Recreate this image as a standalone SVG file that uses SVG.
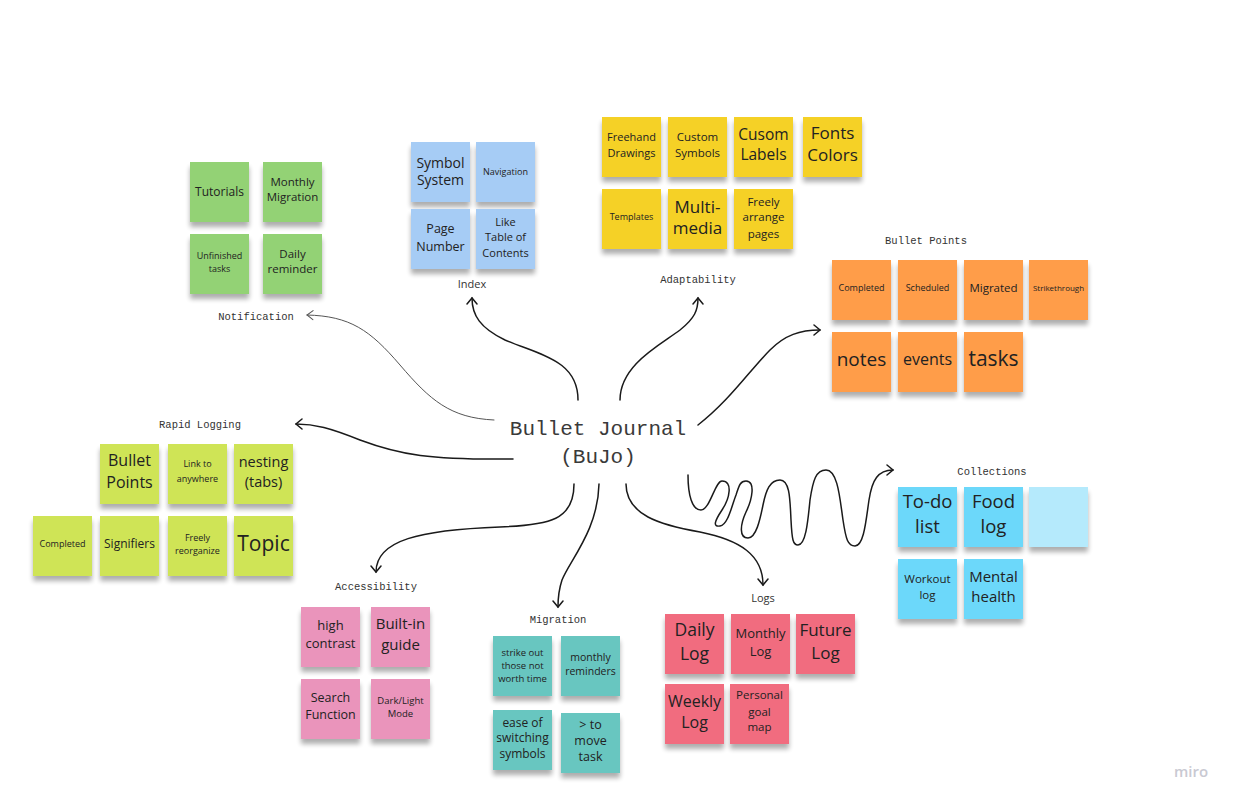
<svg xmlns="http://www.w3.org/2000/svg" width="1239" height="806" viewBox="0 0 1239 806">
<defs>
<filter id="sh" x="-20%" y="-20%" width="140%" height="150%">
<feOffset in="SourceAlpha" dy="5" result="o"/>
<feGaussianBlur in="o" stdDeviation="2.5" result="b"/>
<feComponentTransfer in="b" result="c"><feFuncA type="linear" slope="0.32"/></feComponentTransfer>
<feMerge><feMergeNode in="c"/><feMergeNode in="SourceGraphic"/></feMerge>
</filter>
<marker id="arr" markerWidth="12" markerHeight="12" refX="7" refY="6" orient="auto" markerUnits="userSpaceOnUse"><path d="M1,1 L7,6 L1,11" fill="none" stroke="#1a1a1a" stroke-width="1.5" stroke-linecap="round"/></marker>
<marker id="arrg" markerWidth="12" markerHeight="12" refX="7" refY="6" orient="auto" markerUnits="userSpaceOnUse"><path d="M1,1.5 L7,6 L1,10.5" fill="none" stroke="#555" stroke-width="1" stroke-linecap="round"/></marker>
<style>
.n rect{filter:url(#sh);}
.g rect{fill:#93d275}
.lb rect{fill:#a6ccf5}
.y rect{fill:#f5d128}
.o rect{fill:#ff9d48}
.l rect{fill:#cfe457}
.p rect{fill:#ea94bb}
.c rect{fill:#67c6c0}
.r rect{fill:#f16c7f}
.b rect{fill:#6cd8fa}
.n text{font-family:"Open Sans","Liberation Sans",sans-serif;fill:#222;text-anchor:middle}
.lab{font-family:"Liberation Mono","DejaVu Sans Mono",monospace;font-size:10.5px;fill:#333;text-anchor:middle}
.labs{font-family:"Open Sans","Liberation Sans",sans-serif;font-size:11px;fill:#333;text-anchor:middle}
.con path{fill:none;stroke:#1a1a1a;stroke-width:1.5;stroke-linecap:round}
</style>
</defs>
<rect width="1239" height="806" fill="#ffffff"/>

<g id="connectors" class="con">
<path d="M 494 420 C 450 418 430 400 400 365 C 370 330 350 316 307 315" style="stroke:#555;stroke-width:1" marker-end="url(#arrg)"/>
<path d="M 513 459 C 430 460 400 455 360 440 C 330 428 315 424 296 424" marker-end="url(#arr)"/>
<path d="M 578 400 C 578 360 540 355 505 340 C 480 328 472 315 472 298" marker-end="url(#arr)"/>
<path d="M 620 400 C 620 365 660 345 680 330 C 695 318 698 310 698 298" marker-end="url(#arr)"/>
<path d="M 698 425 C 730 400 750 370 770 350 C 785 335 800 330 820 330" marker-end="url(#arr)"/>
<path d="M 574 484 C 574 520 550 525 500 527 C 420 530 376 540 376 572" marker-end="url(#arr)"/>
<path d="M 599 484 C 598 530 570 560 562 580 C 558 592 558 600 558 607" marker-end="url(#arr)"/>
<path d="M 626 484 C 626 515 660 525 700 532 C 740 540 763 555 763 585" marker-end="url(#arr)"/>
<path d="M 688 475 C 688 495 692 510 701 510 C 710 510 715 481 722 481 C 733 481 730 498 722 510 C 714 522 713 527 720 526 C 728 525 732 505 736 495 C 739 486 740 481 746 481 C 756 481 752 500 746 512 C 740 525 739 538 748 538 C 756 538 760 520 763 505 C 766 490 770 480 780 480 C 790 480 790 500 791 520 C 792 540 793 545 798 545 C 806 545 808 520 810 500 C 813 480 816 470 826 470 C 838 470 840 500 843 520 C 846 540 848 546 855 546 C 864 546 866 520 869 500 C 872 480 878 470 893 470" marker-end="url(#arr)"/>
</g>

<g id="center">
<text x="598" y="435" font-family="Liberation Mono, DejaVu Sans Mono, monospace" font-size="21" fill="#3a3a3a" text-anchor="middle">Bullet Journal</text>
<text x="598" y="463" font-family="Liberation Mono, DejaVu Sans Mono, monospace" font-size="21" fill="#3a3a3a" text-anchor="middle">(BuJo)</text>
</g>

<g id="labels">
<text class="lab" x="256" y="320">Notification</text>
<text class="labs" x="472" y="288">Index</text>
<text class="lab" x="698" y="283">Adaptability</text>
<text class="lab" x="926" y="244">Bullet Points</text>
<text class="lab" x="200" y="428">Rapid Logging</text>
<text class="lab" x="376" y="590">Accessibility</text>
<text class="lab" x="558" y="623">Migration</text>
<text class="labs" x="763" y="602">Logs</text>
<text class="lab" x="992" y="475">Collections</text>
</g>

<!-- Notification -->
<g id="n-tutorials" class="n g"><rect x="190" y="162" width="59" height="60"/><text x="219.5" y="196" font-size="12">Tutorials</text></g>
<g id="n-monthly-migration" class="n g"><rect x="263" y="162" width="59" height="60"/><text x="292.5" y="186" font-size="11.5">Monthly</text><text x="292.5" y="201" font-size="11.5">Migration</text></g>
<g id="n-unfinished" class="n g"><rect x="190" y="234" width="59" height="60"/><text x="219.5" y="259" font-size="9">Unfinished</text><text x="219.5" y="272" font-size="9">tasks</text></g>
<g id="n-daily-reminder" class="n g"><rect x="263" y="234" width="59" height="60"/><text x="292.5" y="258" font-size="11.5">Daily</text><text x="292.5" y="273" font-size="11.5">reminder</text></g>

<!-- Index -->
<g id="i-symbol" class="n lb"><rect x="411" y="142" width="59" height="60"/><text x="440.5" y="168" font-size="14">Symbol</text><text x="440.5" y="185" font-size="14">System</text></g>
<g id="i-navigation" class="n lb"><rect x="476" y="142" width="59" height="60"/><text x="505.5" y="175" font-size="9">Navigation</text></g>
<g id="i-page" class="n lb"><rect x="411" y="209" width="59" height="60"/><text x="440.5" y="233" font-size="12.5">Page</text><text x="440.5" y="251" font-size="12.5">Number</text></g>
<g id="i-toc" class="n lb"><rect x="476" y="209" width="59" height="60"/><text x="505.5" y="226" font-size="11">Like</text><text x="505.5" y="241" font-size="11">Table of</text><text x="505.5" y="257" font-size="11">Contents</text></g>

<!-- Adaptability -->
<g id="a-freehand" class="n y"><rect x="602" y="117" width="59" height="60"/><text x="631.5" y="141" font-size="11">Freehand</text><text x="631.5" y="157" font-size="11">Drawings</text></g>
<g id="a-custom-symbols" class="n y"><rect x="668" y="117" width="59" height="60"/><text x="697.5" y="141" font-size="11.5">Custom</text><text x="697.5" y="157" font-size="11.5">Symbols</text></g>
<g id="a-cusom-labels" class="n y"><rect x="734" y="117" width="59" height="60"/><text x="763.5" y="140" font-size="15.5">Cusom</text><text x="763.5" y="160" font-size="15.5">Labels</text></g>
<g id="a-fonts" class="n y"><rect x="803" y="117" width="59" height="60"/><text x="832.5" y="139" font-size="17">Fonts</text><text x="832.5" y="161" font-size="17">Colors</text></g>
<g id="a-templates" class="n y"><rect x="602" y="189" width="59" height="60"/><text x="631.5" y="220" font-size="9">Templates</text></g>
<g id="a-multimedia" class="n y"><rect x="668" y="189" width="59" height="60"/><text x="697.5" y="213" font-size="17">Multi-</text><text x="697.5" y="234" font-size="17">media</text></g>
<g id="a-arrange" class="n y"><rect x="734" y="189" width="59" height="60"/><text x="763.5" y="206" font-size="11.5">Freely</text><text x="763.5" y="221" font-size="11.5">arrange</text><text x="763.5" y="238" font-size="11.5">pages</text></g>

<!-- Bullet Points -->
<g id="b-completed" class="n o"><rect x="832" y="260" width="59" height="60"/><text x="861.5" y="291" font-size="9">Completed</text></g>
<g id="b-scheduled" class="n o"><rect x="898" y="260" width="59" height="60"/><text x="927.5" y="291" font-size="9">Scheduled</text></g>
<g id="b-migrated" class="n o"><rect x="964" y="260" width="59" height="60"/><text x="993.5" y="292" font-size="11.5">Migrated</text></g>
<g id="b-strike" class="n o"><rect x="1029" y="260" width="59" height="60"/><text x="1058.5" y="291" font-size="8">Strikethrough</text></g>
<g id="b-notes" class="n o"><rect x="832" y="332" width="59" height="60"/><text x="861.5" y="366" font-size="19">notes</text></g>
<g id="b-events" class="n o"><rect x="898" y="332" width="59" height="60"/><text x="927.5" y="365" font-size="16">events</text></g>
<g id="b-tasks" class="n o"><rect x="964" y="332" width="59" height="60"/><text x="993.5" y="366" font-size="21">tasks</text></g>

<!-- Rapid Logging -->
<g id="r-bullet" class="n l"><rect x="100" y="444" width="59" height="60"/><text x="129.5" y="466" font-size="16">Bullet</text><text x="129.5" y="488" font-size="16">Points</text></g>
<g id="r-link" class="n l"><rect x="168" y="444" width="59" height="60"/><text x="197.5" y="467" font-size="9">Link to</text><text x="197.5" y="482" font-size="9">anywhere</text></g>
<g id="r-nesting" class="n l"><rect x="234" y="444" width="59" height="60"/><text x="263.5" y="467" font-size="14.5">nesting</text><text x="263.5" y="487" font-size="14.5">(tabs)</text></g>
<g id="r-completed" class="n l"><rect x="33" y="516" width="59" height="60"/><text x="62.5" y="547" font-size="9">Completed</text></g>
<g id="r-signifiers" class="n l"><rect x="100" y="516" width="59" height="60"/><text x="129.5" y="548" font-size="12">Signifiers</text></g>
<g id="r-reorganize" class="n l"><rect x="168" y="516" width="59" height="60"/><text x="197.5" y="541" font-size="9">Freely</text><text x="197.5" y="554" font-size="9">reorganize</text></g>
<g id="r-topic" class="n l"><rect x="234" y="516" width="59" height="60"/><text x="263.5" y="551" font-size="21">Topic</text></g>

<!-- Accessibility -->
<g id="ac-contrast" class="n p"><rect x="301" y="607" width="59" height="60"/><text x="330.5" y="630" font-size="13">high</text><text x="330.5" y="648" font-size="13">contrast</text></g>
<g id="ac-guide" class="n p"><rect x="371" y="607" width="59" height="60"/><text x="400.5" y="629" font-size="15">Built-in</text><text x="400.5" y="650" font-size="15">guide</text></g>
<g id="ac-search" class="n p"><rect x="301" y="679" width="59" height="60"/><text x="330.5" y="702" font-size="12.5">Search</text><text x="330.5" y="719" font-size="12.5">Function</text></g>
<g id="ac-dark" class="n p"><rect x="371" y="679" width="59" height="60"/><text x="400.5" y="704" font-size="9.5">Dark/Light</text><text x="400.5" y="717" font-size="9.5">Mode</text></g>

<!-- Migration -->
<g id="m-strike" class="n c"><rect x="493" y="636" width="59" height="60"/><text x="522.5" y="656" font-size="9.5">strike out</text><text x="522.5" y="669" font-size="9.5">those not</text><text x="522.5" y="682" font-size="9.5">worth time</text></g>
<g id="m-monthly" class="n c"><rect x="561" y="636" width="59" height="60"/><text x="590.5" y="661" font-size="10.5">monthly</text><text x="590.5" y="675" font-size="10.5">reminders</text></g>
<g id="m-ease" class="n c"><rect x="493" y="710" width="59" height="60"/><text x="522.5" y="727" font-size="12">ease of</text><text x="522.5" y="742" font-size="12">switching</text><text x="522.5" y="758" font-size="12">symbols</text></g>
<g id="m-move" class="n c"><rect x="561" y="713" width="59" height="60"/><text x="590.5" y="729" font-size="12.5">&gt; to</text><text x="590.5" y="745" font-size="12.5">move</text><text x="590.5" y="761" font-size="12.5">task</text></g>

<!-- Logs -->
<g id="l-daily" class="n r"><rect x="665" y="614" width="59" height="60"/><text x="694.5" y="636" font-size="17.5">Daily</text><text x="694.5" y="660" font-size="17.5">Log</text></g>
<g id="l-monthly" class="n r"><rect x="731" y="614" width="59" height="60"/><text x="760.5" y="638" font-size="13">Monthly</text><text x="760.5" y="656" font-size="13">Log</text></g>
<g id="l-future" class="n r"><rect x="796" y="614" width="59" height="60"/><text x="825.5" y="636" font-size="17">Future</text><text x="825.5" y="659" font-size="17">Log</text></g>
<g id="l-weekly" class="n r"><rect x="665" y="684" width="59" height="60"/><text x="694.5" y="707" font-size="16">Weekly</text><text x="694.5" y="728" font-size="16">Log</text></g>
<g id="l-personal" class="n r"><rect x="730" y="684" width="59" height="60"/><text x="759.5" y="699" font-size="11.5">Personal</text><text x="759.5" y="716" font-size="11.5">goal</text><text x="759.5" y="731" font-size="11.5">map</text></g>

<!-- Collections -->
<g id="c-todo" class="n b"><rect x="898" y="487" width="59" height="60"/><text x="927.5" y="508" font-size="18.5">To-do</text><text x="927.5" y="533" font-size="18.5">list</text></g>
<g id="c-food" class="n b"><rect x="964" y="487" width="59" height="60"/><text x="993.5" y="508" font-size="18.5">Food</text><text x="993.5" y="533" font-size="18.5">log</text></g>
<g id="c-empty" class="n b"><rect x="1029" y="487" width="59" height="60" style="fill:#b5eafc"/></g>
<g id="c-workout" class="n b"><rect x="898" y="559" width="59" height="60"/><text x="927.5" y="583" font-size="11.5">Workout</text><text x="927.5" y="599" font-size="11.5">log</text></g>
<g id="c-mental" class="n b"><rect x="964" y="559" width="59" height="60"/><text x="993.5" y="582" font-size="15">Mental</text><text x="993.5" y="602" font-size="15">health</text></g>

<text x="1191" y="777" font-family="Open Sans, Liberation Sans, sans-serif" font-size="15" font-weight="600" fill="#c9c9d2" text-anchor="middle">miro</text>
</svg>
